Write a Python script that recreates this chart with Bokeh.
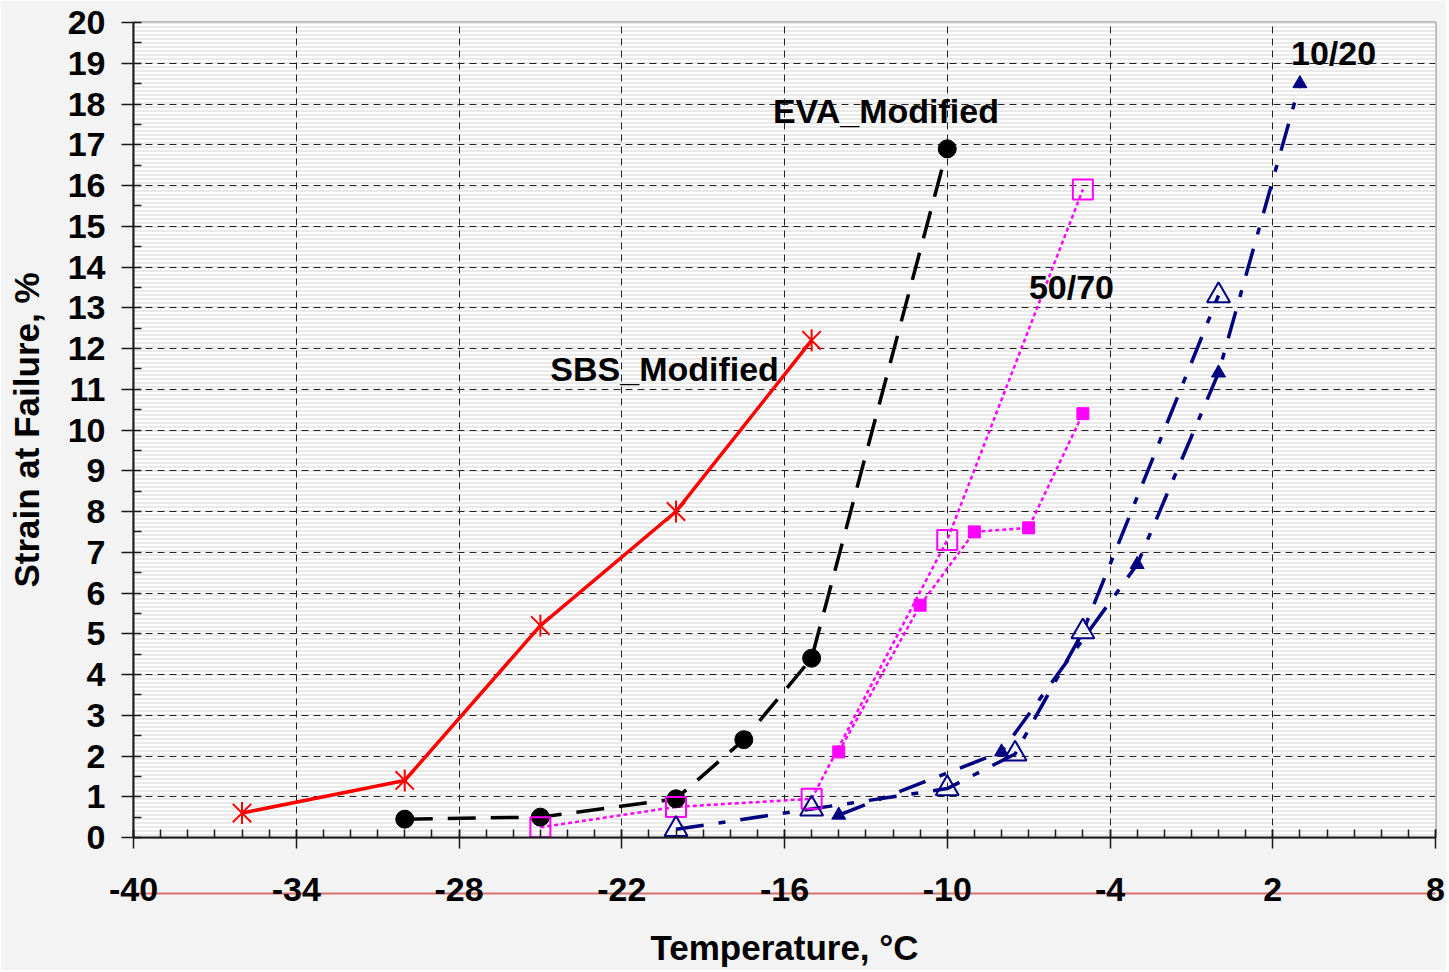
import math
from bokeh.plotting import figure
from bokeh.models import Range1d, SingleIntervalTicker, FixedTicker, BoxAnnotation, LinearAxis
from bokeh.core.properties import value
from bokeh.embed import file_html
from bokeh.resources import INLINE

FONT = "Liberation Sans"

# ---------------- data ----------------
sbs_x = [-36, -30, -25, -20, -15]
sbs_y = [0.6, 1.4, 5.2, 8.0, 12.2]

eva_x = [-30, -25, -20, -17.5, -15, -10]
eva_y = [0.45, 0.5, 0.95, 2.4, 4.4, 16.9]

b5070_open_x = [-25, -20, -15, -10, -5]
b5070_open_y = [0.25, 0.75, 0.95, 7.3, 15.9]

b5070_fill_x = [-14, -11, -9, -7, -5]
b5070_fill_y = [2.1, 5.7, 7.5, 7.6, 10.4]

b1020_open_x = [-20, -15, -10, -7.5, -5, 0]
b1020_open_y = [0.2, 0.7, 1.2, 2.05, 5.05, 13.3]

b1020_fill_x = [-14, -8, -3, 0, 3]
b1020_fill_y = [0.55, 2.1, 6.7, 11.4, 18.5]

x_major = [-40, -34, -28, -22, -16, -10, -4, 2, 8]
x_labels = ["-40", "-34", "-28", "-22", "-16", "-10", "-4", "2", "8"]
x_minor = list(range(-40, 9))

label_text = ["EVA_Modified", "SBS_Modified", "50/70", "10/20"]
label_x = [-12.26, -20.42, -5.42, 4.24]
label_y = [17.82, 11.49, 13.50, 19.26]

x_title = "Temperature, °C"
y_title = "Strain at Failure, %"

# ---------------- figure ----------------
p = figure(width=1446, height=970, x_range=Range1d(-40, 8), y_range=Range1d(0, 20),
           output_backend="svg", toolbar_location=None,
           min_border_left=133, min_border_right=11, min_border_top=22, min_border_bottom=133)

p.background_fill_color = "white"
p.border_fill_color = "#f3f3f3"
p.outline_line_color = "#808080"
p.outline_line_width = 2

# striped background inside the plot area
stripes = BoxAnnotation(left=-400, right=3000, bottom=-400, top=3000,
                        left_units="screen", right_units="screen",
                        bottom_units="screen", top_units="screen",
                        fill_color="white", fill_alpha=1.0, line_alpha=0,
                        hatch_pattern="-", hatch_color="#dcdcdc", hatch_scale=4,
                        hatch_weight=1.2, level="image")
p.add_layout(stripes)

xt = FixedTicker(ticks=x_major, minor_ticks=x_minor)
yt = SingleIntervalTicker(interval=1, num_minor_ticks=2)
p.xaxis.ticker = xt
p.yaxis.ticker = yt
p.xgrid.ticker = xt
p.ygrid.ticker = yt

for g in (p.xgrid, p.ygrid):
    g.grid_line_color = "#222222"
    g.grid_line_width = 1
    g.grid_line_dash = "7 5"

p.axis.axis_line_color = "#1a1a1a"
p.axis.axis_line_width = 2
p.axis.major_tick_line_color = "#1a1a1a"
p.axis.minor_tick_line_color = "#1a1a1a"
p.axis.major_tick_line_width = 1.5
p.axis.minor_tick_line_width = 1.5
p.yaxis.major_tick_out = 12
p.yaxis.major_tick_in = 0
p.yaxis.minor_tick_in = 8
p.yaxis.minor_tick_out = 0
p.xaxis.major_tick_out = 11
p.xaxis.major_tick_in = 8
p.xaxis.minor_tick_in = 8
p.xaxis.minor_tick_out = 0

p.yaxis.major_label_text_font = FONT
p.yaxis.major_label_text_font_style = "bold"
p.yaxis.major_label_text_font_size = "34px"
p.yaxis.major_label_text_color = "black"
p.yaxis.major_label_standoff = 16
p.yaxis.axis_label = y_title
p.yaxis.axis_label_text_font = FONT
p.yaxis.axis_label_text_font_style = "bold"
p.yaxis.axis_label_text_font_size = "35px"
p.yaxis.axis_label_text_color = "black"
p.yaxis.axis_label_standoff = 19

# the axis at y = 0 carries only the ticks
p.xaxis.major_label_overrides = {t: "" for t in x_major}
p.xaxis.major_label_text_font_size = "1px"

# an invisible spacer axis pushes the red rule down
spacer = LinearAxis(ticker=xt, axis_line_alpha=0, major_tick_out=45, major_tick_in=0,
                    major_tick_line_alpha=0, minor_tick_out=0, minor_tick_in=0,
                    minor_tick_line_alpha=0, major_label_overrides={t: "" for t in x_major},
                    major_label_text_font_size="1px")
p.add_layout(spacer, "below")

# the red rule, carrying the tick labels and the title
red_axis = LinearAxis(ticker=xt, axis_line_color="#d97070", axis_line_width=2,
                      major_tick_out=0, major_tick_in=0, minor_tick_out=0, minor_tick_in=0,
                      major_label_overrides=dict(zip(x_major, x_labels)),
                      major_label_standoff=-16,
                      major_label_text_font=FONT, major_label_text_font_style="bold",
                      major_label_text_font_size="34px", major_label_text_color="black",
                      axis_label=x_title, axis_label_text_font=FONT,
                      axis_label_text_font_style="bold", axis_label_text_font_size="35px",
                      axis_label_text_color="black", axis_label_standoff=24)
p.add_layout(red_axis, "below")

# ---------------- series ----------------
RED = "#ff0000"
MAG = "#ff00ff"
NAVY = "#000080"

p.line(sbs_x, sbs_y, line_color=RED, line_width=3.5)
p.line(eva_x, eva_y, line_color="black", line_width=3.5, line_dash="28 15")
p.line(b5070_open_x, b5070_open_y, line_color=MAG, line_width=2.5, line_dash="4 3")
p.line(b5070_fill_x, b5070_fill_y, line_color=MAG, line_width=2.5, line_dash="4 3")
p.line(b1020_open_x, b1020_open_y, line_color=NAVY, line_width=3.5, line_dash="28 15 7 15")
p.line(b1020_fill_x, b1020_fill_y, line_color=NAVY, line_width=3.5, line_dash="28 15 7 15")

p.scatter(sbs_x, sbs_y, marker="x", size=26, line_color=RED, line_width=2)
p.scatter(sbs_x, sbs_y, marker="dash", angle=math.pi / 2, size=22, line_color=RED, line_width=2)
p.scatter(eva_x, eva_y, marker="circle", size=18, fill_color="black", line_color="black")
p.scatter(b5070_open_x, b5070_open_y, marker="square", size=20, fill_alpha=0,
          line_color=MAG, line_width=2)
p.scatter(b5070_fill_x, b5070_fill_y, marker="square", size=12, fill_color=MAG, line_color=MAG)
p.scatter(b1020_open_x, b1020_open_y, marker="triangle", size=23, fill_alpha=0,
          line_color=NAVY, line_width=2)
p.scatter(b1020_fill_x, b1020_fill_y, marker="triangle", size=14, fill_color=NAVY, line_color=NAVY)

p.text(label_x, label_y, text=label_text, text_font=value(FONT), text_font_style="bold",
       text_font_size="34px", text_align="center", text_baseline="alphabetic", text_color="black")

open("out.html", "w").write(file_html(p, INLINE))
